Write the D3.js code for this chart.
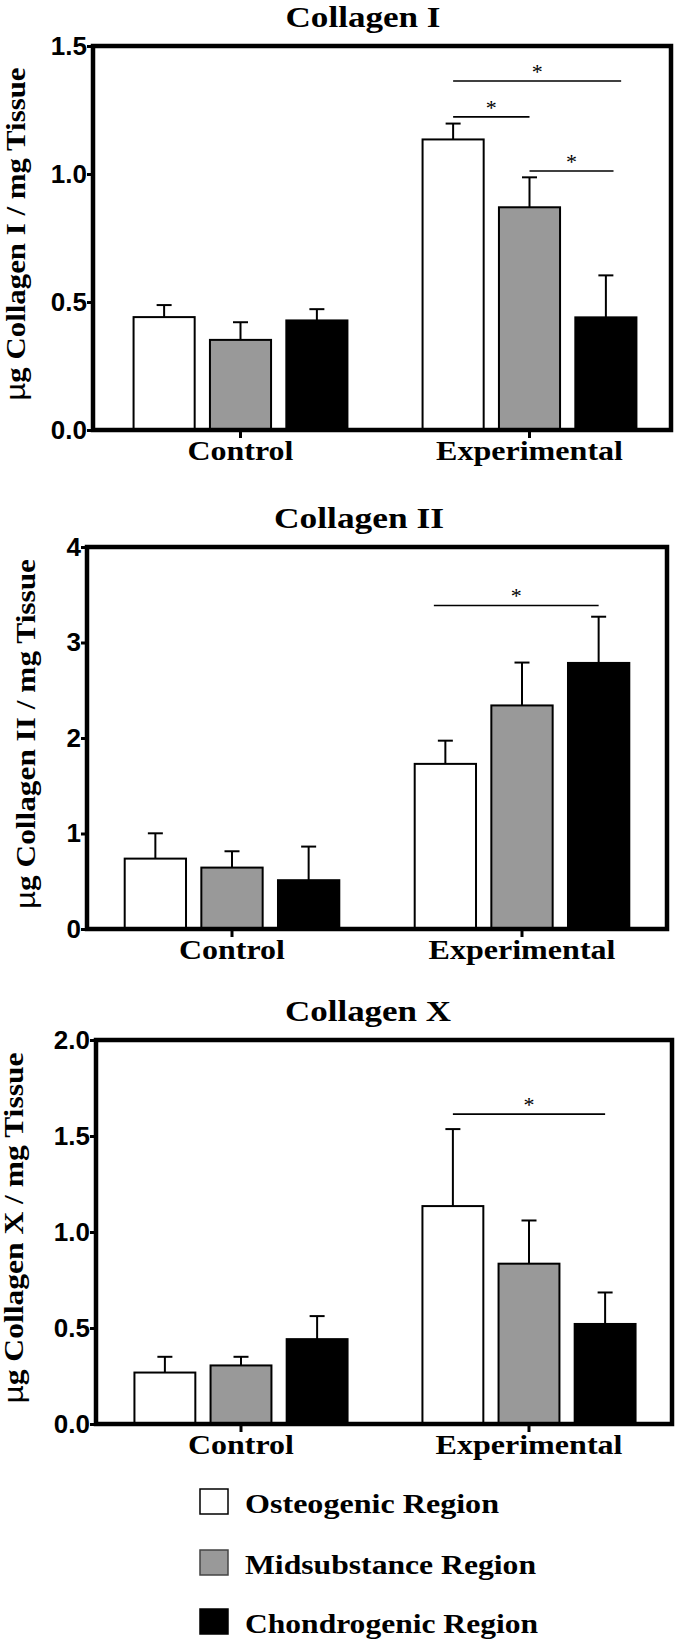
<!DOCTYPE html>
<html><head><meta charset="utf-8">
<script src="https://cdn.jsdelivr.net/npm/d3@7"></script>
<style>body{margin:0;background:#fff}</style>
</head><body>
<svg id="c" width="680" height="1643"></svg>
<script>
// ---------- data ----------
const groups = ["Control", "Experimental"];
const regions = ["Osteogenic Region", "Midsubstance Region", "Chondrogenic Region"];

// order: Control (Osteo, Mid, Chondro), Experimental (Osteo, Mid, Chondro)
const col1Means = [0.441, 0.352, 0.428, 1.135, 0.870, 0.440];
const col1Sems  = [0.047, 0.069, 0.044, 0.062, 0.117, 0.164];
const col2Means = [0.737, 0.643, 0.511, 1.729, 2.341, 2.786];
const col2Sems  = [0.265, 0.171, 0.352, 0.243, 0.449, 0.484];
const col3Means = [0.268, 0.305, 0.442, 1.135, 0.835, 0.521];
const col3Sems  = [0.082, 0.045, 0.120, 0.401, 0.225, 0.164];

const col1Ticks = [0, 0.5, 1.0, 1.5];
const col2Ticks = [0, 1, 2, 3, 4];
const col3Ticks = [0, 0.5, 1.0, 1.5, 2.0];

// significance lines within Experimental group: from/to in bar-slot units, at value y
const col1Sig = [{from: 0, to: 2.2, y: 1.363}, {from: 0, to: 1, y: 1.223}, {from: 1, to: 2.1, y: 1.012}];
const col2Sig = [{from: -0.15, to: 2, y: 3.388}];
const col3Sig = [{from: 0, to: 2, y: 1.614}];

// ---------- style ----------
const fills = ["#ffffff", "#999999", "#000000"];
const SERIF = "'Liberation Serif','Times New Roman',serif";
const SANS = "'Liberation Sans',Arial,sans-serif";

const svg = d3.select("#c");

function drawPanel(p) {
  const g = svg.append("g");
  const y = d3.scaleLinear().domain([0, p.yMax]).range([p.bottom, p.top]);
  const x0 = d3.scaleBand().domain(groups).range([p.left + p.shift, p.right + p.shift]).paddingInner(0.26).paddingOuter(0.13);
  const x1 = d3.scaleBand().domain([0, 1, 2]).range([0, x0.bandwidth()]).paddingInner(0.2).paddingOuter(0);
  const data = p.means.map((m, i) => ({g: groups[Math.floor(i / 3)], r: i % 3, m, e: p.sems[i]}));
  const cx = d => x0(d.g) + x1(d.r) + x1.bandwidth() / 2;

  // error bars (upper only)
  g.selectAll("line.err").data(data).join("line")
    .attr("x1", cx).attr("x2", cx)
    .attr("y1", d => y(d.m)).attr("y2", d => y(d.m + d.e))
    .attr("stroke", "#000").attr("stroke-width", 2);
  g.selectAll("line.cap").data(data).join("line")
    .attr("x1", d => cx(d) - 7.5).attr("x2", d => cx(d) + 7.5)
    .attr("y1", d => y(d.m + d.e)).attr("y2", d => y(d.m + d.e))
    .attr("stroke", "#000").attr("stroke-width", 2);

  // bars
  g.selectAll("rect.bar").data(data).join("rect")
    .attr("x", d => x0(d.g) + x1(d.r))
    .attr("y", d => y(d.m))
    .attr("width", x1.bandwidth())
    .attr("height", d => y(0) - y(d.m))
    .attr("fill", d => fills[d.r])
    .attr("stroke", "#000").attr("stroke-width", 2);

  // significance lines
  const slot = x1.step();
  const c0 = x0("Experimental") + x1.bandwidth() / 2;
  g.selectAll("line.sig").data(p.sig).join("line")
    .attr("x1", d => c0 + d.from * slot).attr("x2", d => c0 + d.to * slot)
    .attr("y1", d => y(d.y)).attr("y2", d => y(d.y))
    .attr("stroke", "#000").attr("stroke-width", 1.6);
  g.selectAll("text.star").data(p.sig).join("text")
    .attr("x", d => c0 + (d.from + d.to) / 2 * slot)
    .attr("y", d => y(d.y) - 2)
    .attr("text-anchor", "middle")
    .attr("font-family", SERIF).attr("font-size", 22)
    .text("*");

  // frame
  g.append("rect")
    .attr("x", p.left).attr("y", p.top)
    .attr("width", p.right - p.left).attr("height", p.bottom - p.top)
    .attr("fill", "none").attr("stroke", "#000").attr("stroke-width", 4.5);

  // y axis
  const ya = g.append("g").attr("transform", `translate(${p.left},0)`)
    .call(d3.axisLeft(y).tickValues(p.ticks).tickFormat(p.fmt).tickSize(6).tickPadding(0).tickSizeOuter(0));
  ya.select(".domain").remove();
  ya.selectAll(".tick line").attr("stroke", "#000").attr("stroke-width", 3);
  ya.selectAll(".tick text").attr("font-family", SANS).attr("font-weight", "bold")
    .attr("font-size", 26).attr("fill", "#000");

  // x axis ticks
  const xa = g.append("g").attr("transform", `translate(0,${p.bottom})`)
    .call(d3.axisBottom(x0).tickSize(8).tickFormat("").tickSizeOuter(0));
  xa.select(".domain").remove();
  xa.selectAll(".tick line").attr("stroke", "#000").attr("stroke-width", 3);

  // x labels
  const xlLen = {"Control": 106, "Experimental": 187};
  g.selectAll("text.xl").data(groups).join("text")
    .attr("x", d => x0(d) + x0.bandwidth() / 2)
    .attr("y", p.bottom + 30)
    .attr("text-anchor", "middle")
    .attr("font-family", SERIF).attr("font-weight", "bold").attr("font-size", 28)
    .attr("textLength", d => xlLen[d]).attr("lengthAdjust", "spacingAndGlyphs")
    .text(d => d);

  // title
  g.append("text")
    .attr("x", p.titleX).attr("y", p.top - 19)
    .attr("text-anchor", "middle")
    .attr("font-family", SERIF).attr("font-weight", "bold").attr("font-size", 30)
    .attr("textLength", p.titleLen).attr("lengthAdjust", "spacingAndGlyphs")
    .text(p.title);

  // y label
  const yl = g.append("text")
    .attr("transform", `translate(${p.ylX},${(p.top + p.bottom) / 2 - 4}) rotate(-90)`)
    .attr("text-anchor", "middle")
    .attr("font-family", SERIF).attr("font-weight", "bold").attr("font-size", 27)
    .attr("textLength", p.ylLen).attr("lengthAdjust", "spacingAndGlyphs");
  yl.append("tspan").attr("font-family", SANS).attr("font-weight", "normal").text("\u00b5");
  yl.append("tspan").text(p.ylabel);
}

drawPanel({title: "Collagen I", titleX: 363, titleLen: 155,
  left: 93, right: 671, top: 46, bottom: 430, yMax: 1.5, shift: 3,
  ticks: col1Ticks, fmt: d3.format(".1f"), means: col1Means, sems: col1Sems, sig: col1Sig,
  ylabel: "g Collagen I / mg Tissue", ylX: 25, ylLen: 333});

drawPanel({title: "Collagen II", titleX: 359, titleLen: 170,
  left: 87, right: 667, top: 547, bottom: 929, yMax: 4, shift: 0,
  ticks: col2Ticks, fmt: d3.format("d"), means: col2Means, sems: col2Sems, sig: col2Sig,
  ylabel: "g Collagen II / mg Tissue", ylX: 35, ylLen: 350});

drawPanel({title: "Collagen X", titleX: 368, titleLen: 166,
  left: 96, right: 672, top: 1040, bottom: 1424, yMax: 2, shift: 1,
  ticks: col3Ticks, fmt: d3.format(".1f"), means: col3Means, sems: col3Sems, sig: col3Sig,
  ylabel: "g Collagen X / mg Tissue", ylX: 23, ylLen: 351});

// legend
const legBase = [1513, 1574, 1633];
const legLen = [254, 291, 293];
const leg = svg.append("g");
leg.selectAll("rect").data(regions).join("rect")
  .attr("x", 200).attr("y", (d, i) => legBase[i] - 24)
  .attr("width", 28).attr("height", 25)
  .attr("fill", (d, i) => fills[i])
  .attr("stroke", (d, i) => i === 1 ? "#444" : "#000").attr("stroke-width", 1.5);
leg.selectAll("text").data(regions).join("text")
  .attr("x", 245).attr("y", (d, i) => legBase[i])
  .attr("font-family", SERIF).attr("font-weight", "bold").attr("font-size", 27)
  .attr("textLength", (d, i) => legLen[i]).attr("lengthAdjust", "spacingAndGlyphs")
  .text(d => d);
</script>
</body></html>
